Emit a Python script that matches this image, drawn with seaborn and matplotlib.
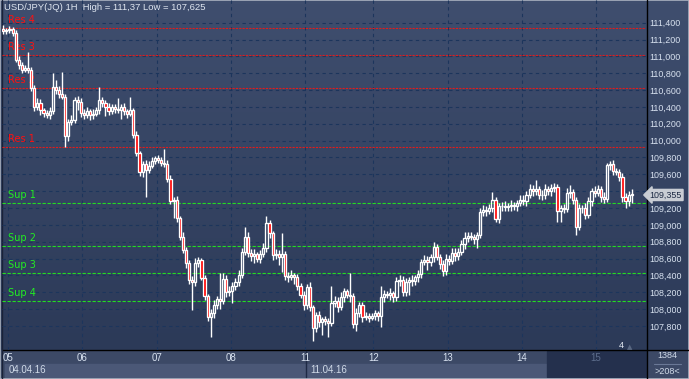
import matplotlib.pyplot as plt
import seaborn as sns
import numpy as np
import pandas as pd
from matplotlib.colors import LinearSegmentedColormap
from matplotlib.lines import Line2D
from matplotlib.patches import Rectangle
from matplotlib.ticker import FuncFormatter

# ---- data (USD/JPY 1H) ----
days = ["05", "06", "07", "08", "11", "12", "13", "14", "15"]
day_start = [2, 26, 50, 74, 98, 120, 144, 168, 192]   # first candle of each day
first_open = 111.32

close = [
    111.30, 111.31,
    111.33, 111.28, 110.96, 110.90, 110.84, 110.86, 110.84, 110.62, 110.40, 110.45, 110.36, 110.33,
    110.30, 110.35, 110.64, 110.60, 110.55, 110.52, 110.05, 110.22, 110.24, 110.48, 110.46, 110.33,
    110.30, 110.35, 110.30, 110.32, 110.36, 110.48, 110.45, 110.40, 110.35, 110.40, 110.38, 110.36,
    110.40, 110.35, 110.32, 110.36, 110.07, 109.85, 109.63, 109.72, 109.65, 109.70, 109.76, 109.79,
    109.77, 109.74, 109.72, 109.55, 109.28, 109.30, 109.08, 108.86, 108.70, 108.55, 108.35, 108.32,
    108.55, 108.58, 108.37, 108.15, 107.91, 107.95, 108.05, 108.12, 108.10, 108.36, 108.20, 108.22,
    108.28, 108.32, 108.40, 108.68, 108.86, 108.67, 108.63, 108.65, 108.60, 108.65, 108.72, 109.02,
    108.90, 108.64, 108.66, 108.62, 108.65, 108.39, 108.38, 108.40, 108.38, 108.28, 108.17, 108.05,
    108.26, 108.02, 107.78, 107.93, 107.85, 107.88, 107.86, 107.84, 108.07, 108.10, 108.03,
    108.14, 108.21, 108.17, 108.15, 107.82, 107.96, 108.05, 107.91, 107.92, 107.90, 107.92,
    107.95, 107.92, 108.14, 108.18, 108.17, 108.19, 108.14, 108.33, 108.35, 108.20, 108.32, 108.34,
    108.33, 108.38, 108.42, 108.56, 108.58, 108.56, 108.62, 108.74, 108.62, 108.53, 108.45, 108.60,
    108.57, 108.67, 108.63, 108.68, 108.77, 108.85, 108.87, 108.86, 108.83, 108.88, 109.15, 109.18,
    109.17, 109.20, 109.30, 109.07, 109.22, 109.22, 109.21, 109.22, 109.24, 109.22, 109.26, 109.30,
    109.28, 109.36, 109.42, 109.40, 109.42, 109.35, 109.36, 109.42, 109.40, 109.44, 109.45, 109.17,
    109.20, 109.19, 109.38, 109.39, 109.30, 108.98, 109.20, 109.20, 109.12, 109.28, 109.40, 109.38,
    109.42, 109.33, 109.31, 109.71, 109.72, 109.64, 109.63, 109.57, 109.33, 109.28, 109.36, 109.355,
]

# wick lengths in pips (0.01)
wick_up = [
    5, 3,
    3, 2, 3, 4, 3, 4, 19, 3, 4, 6, 4, 3, 3, 5, 16, 8, 5, 27, 3, 4, 6, 4, 5, 4,
    4, 5, 3, 6, 4, 16, 4, 3, 5, 4, 3, 12, 4, 5, 3, 16, 3, 4, 3, 4, 5, 6, 4, 3,
    4, 3, 16, 5, 4, 3, 4, 3, 5, 4, 3, 4, 6, 4, 3, 4, 3, 5, 6, 4, 31, 7, 4, 5,
    4, 5, 6, 4, 12, 5, 4, 6, 3, 5, 6, 8, 4, 3, 5, 4, 25, 4, 5, 6, 3, 4, 3, 4,
    4, 6, 3, 4, 5, 3, 4, 3, 20, 5, 4, 6, 4, 3, 26, 4, 5, 4, 3, 5, 4, 3,
    4, 3, 13, 5, 4, 6, 3, 5, 6, 4, 5, 4, 6, 3, 5, 4, 6, 5, 4, 6, 3, 4, 5, 6,
    4, 5, 6, 4, 5, 6, 4, 5, 3, 4, 5, 6, 4, 5, 9, 3, 4, 5, 6, 4, 5, 3, 4, 6,
    5, 4, 6, 5, 11, 4, 5, 6, 4, 5, 5, 3, 4, 5, 6, 8, 4, 3, 5, 4, 6, 5, 4, 6,
    5, 4, 6, 3, 4, 5, 4, 3, 4, 5, 4, 6,
]
wick_dn = [
    3, 3,
    3, 4, 3, 5, 4, 3, 4, 3, 5, 4, 6, 5, 3, 4, 3, 5, 4, 3, 13, 5, 4, 3, 10, 5,
    4, 3, 6, 4, 3, 4, 5, 11, 4, 3, 5, 3, 10, 4, 5, 3, 4, 3, 5, 6, 32, 4, 3, 4,
    3, 4, 3, 4, 3, 20, 5, 4, 3, 6, 5, 33, 4, 5, 3, 4, 5, 24, 6, 5, 10, 4, 6, 5,
    15, 5, 4, 3, 4, 5, 6, 8, 4, 5, 3, 4, 5, 6, 4, 10, 18, 5, 6, 4, 8, 5, 4, 6,
    5, 4, 16, 5, 6, 16, 5, 17, 4, 5, 6, 4, 5, 4, 6, 4, 8, 5, 6, 4, 5, 3,
    5, 6, 13, 5, 4, 6, 5, 4, 6, 5, 4, 15, 5, 4, 6, 5, 4, 10, 5, 6, 4, 5, 6, 4,
    5, 4, 6, 5, 4, 6, 5, 4, 6, 10, 4, 5, 6, 4, 5, 3, 5, 6, 4, 5, 6, 4, 5, 4,
    4, 5, 4, 6, 5, 4, 6, 5, 4, 6, 5, 13, 13, 5, 4, 6, 5, 10, 4, 6, 5, 4, 6, 5,
    4, 6, 5, 4, 6, 5, 4, 5, 6, 8, 5, 10,
]

res_names = ["Res 4", "Res 3", "Res 2", "Res 1"]
res_levels = [111.335, 111.013, 110.630, 109.925]
sup_names = ["Sup 1", "Sup 2", "Sup 3", "Sup 4"]
sup_levels = [109.258, 108.747, 108.427, 108.095]
price_ticks = [107.8, 108.0, 108.2, 108.4, 108.6, 108.8, 109.0, 109.2,
               109.4, 109.6, 109.8, 110.0, 110.2, 110.4, 110.6, 110.8,
               111.0, 111.2, 111.4]
last_price = "109,355"

# ---- build OHLC table ----
df = pd.DataFrame({"close": close})
df["open"] = [first_open] + close[:-1]
df["top"] = df[["open", "close"]].max(axis=1)
df["bot"] = df[["open", "close"]].min(axis=1)
df["high"] = df["top"] + np.array(wick_up) / 100
df["low"] = df["bot"] - np.array(wick_dn) / 100
df["x"] = np.arange(len(df))
df["down"] = df["close"] < df["open"]

sns.set_theme(style="dark")
plt.rcParams["font.family"] = ["Liberation Sans", "DejaVu Sans"]

W, H = 689, 379
fig = plt.figure(figsize=(W / 100, H / 100), dpi=100)
fig.patch.set_facecolor("#3c4966")

# gradient background for chart + price scale
bg = fig.add_axes([0, 0, 1, 1])
bg.set_xlim(0, 1)
bg.set_ylim(0, 1)
cmap = LinearSegmentedColormap.from_list("bg", ["#2c3a58", "#3f4e6e"])
bg.imshow(np.linspace(0, 1, 100).reshape(-1, 1), origin="lower", cmap=cmap,
          extent=[0, 1, 29 / H, 1], aspect="auto")
bg.add_patch(Rectangle((0, 0), 1, 29 / H, color="#3c4966"))
bg.add_patch(Rectangle((5 / W, 2 / H), 300 / W, 13 / H, color="#4b5877"))
bg.add_patch(Rectangle((306 / W, 2 / H), 241 / W, 13 / H, color="#4b5877"))
bg.add_patch(Rectangle((547 / W, 2 / H), 99 / W, 26 / H, color="#24304d"))
bg.axis("off")

ax = fig.add_axes([2 / W, 29 / H, 644 / W, 350 / H])
ax.set_zorder(2)
ax.set_facecolor("none")
ax.set_xlim(-0.42, 207.6)
ax.set_ylim(107.515, 111.669)

# grid and scales
bounds = [s - 0.5 for s in day_start]
ax.set_xticks(bounds)
ax.set_xticklabels(days)
ax.set_yticks(price_ticks)
# 109,400 sits under the last-price tag
ax.yaxis.set_major_formatter(FuncFormatter(
    lambda v, p: "" if abs(v - 109.4) < 1e-6 else f"{v:.3f}".replace(".", ",")))
ax.yaxis.tick_right()
ax.tick_params(axis="y", length=0, pad=2.2, labelsize=6.4, labelcolor="#d8e2f0")
ax.tick_params(axis="x", length=0, pad=2.0, labelsize=7, labelcolor="#d8e2f0")
for lab in ax.get_yticklabels():
    lab.set_horizontalalignment("left")
ax.get_xticklabels()[-1].set_color("#5d6d8c")
ax.grid(True, color="#1c355c", linestyle=(0, (3, 3)), linewidth=0.8)
for s in ax.spines.values():
    s.set_visible(False)

# resistance / support lines
for name, lvl in zip(res_names, res_levels):
    ax.axhline(lvl, color="#e01c1c", linestyle=(0, (2, 1)), linewidth=0.8, zorder=2)
    ax.annotate(name, xy=(1.5, lvl), xytext=(0, 3.6), textcoords="offset points",
                va="baseline", ha="left", color="#ff1010", fontsize=7,
                family="DejaVu Sans", zorder=2.5)
for name, lvl in zip(sup_names, sup_levels):
    ax.axhline(lvl, color="#22dd22", linestyle=(0, (3, 1.5)), linewidth=0.8, zorder=2)
    ax.annotate(name, xy=(1.5, lvl), xytext=(0, 3.6), textcoords="offset points",
                va="baseline", ha="left", color="#22ee22", fontsize=7,
                family="DejaVu Sans", zorder=2.5)

# candles: wicks outside bodies, hollow up bodies, red down bodies
ax.vlines(df["x"], df["top"], df["high"], color="white", linewidth=1.0, zorder=3)
ax.vlines(df["x"], df["low"], df["bot"], color="white", linewidth=1.0, zorder=3)
body = (df["top"] - df["bot"]).clip(lower=0.006)
ax.bar(df["x"], body, bottom=df["bot"], width=0.7,
       color=np.where(df["down"], "#ff0000", "none"),
       edgecolor="white", linewidth=0.95, zorder=4)

# current price tag
ax.annotate(last_price, xy=(1, 109.355), xycoords=("axes fraction", "data"),
            xytext=(2.6, 0), textcoords="offset points", va="center", ha="left",
            fontsize=6.4, color="#1d2a44", annotation_clip=False, zorder=6,
            bbox=dict(boxstyle="larrow,pad=0.12", fc="#c9cdd4", ec="#c9cdd4"))

# title
fig.text(4 / W, 1 - 8 / H, "USD/JPY(JQ) 1H  High = 111,37 Low = 107,625",
         color="#dfe6f0", fontsize=6.8, va="center", ha="left", zorder=5)

# bottom strip text
fig.text(9 / W, 1 - 370 / H, "04.04.16", color="#d0dae8", fontsize=7, va="center")
fig.text(310 / W, 1 - 370 / H, "11.04.16", color="#d0dae8", fontsize=7, va="center")
fig.text(621 / W, 1 - 346 / H, "4", color="#e6ecf4", fontsize=6.5, va="center", ha="center", zorder=6)
fig.text(630 / W, 1 - 347 / H, "\u25b2", color="#5a6882", fontsize=5, va="center", ha="center",
         family="DejaVu Sans", zorder=6)
fig.text(667 / W, 1 - 356 / H, "1384", color="#d0dae8", fontsize=6.5, va="center", ha="center")
fig.text(667 / W, 1 - 372 / H, ">208<", color="#d0dae8", fontsize=6.5, va="center", ha="center")
fig.add_artist(Line2D([654 / W, 681 / W], [1 - 364 / H] * 2, color="#6a7896", lw=0.8))

# frame lines
fig.add_artist(Line2D([2 / W, 1], [29 / H] * 2, color="black", lw=1))
fig.add_artist(Line2D([646.5 / W] * 2, [0, 1], color="black", lw=1))
fig.add_artist(Line2D([305.5 / W] * 2, [2 / H, 28 / H], color="#1e2a45", lw=1))
fig.add_artist(Line2D([1.5 / W] * 2, [0, 1], color="#1a2238", lw=1))
fig.add_artist(Rectangle((0, 0), 1, 1, transform=fig.transFigure, fill=False,
                         ec="#aab2c0", lw=1.2))

fig.savefig("out.png", dpi=100)
